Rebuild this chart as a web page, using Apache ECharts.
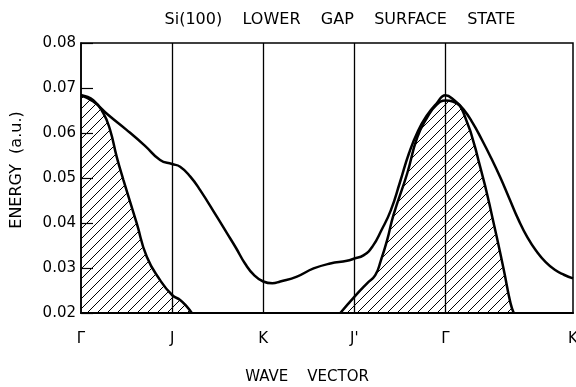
<!DOCTYPE html>
<html>
<head>
<meta charset="utf-8">
<script src="https://cdn.jsdelivr.net/npm/echarts@6/dist/echarts.min.js"></script>
<style>html,body{margin:0;padding:0;background:#fff;}#c{width:576px;height:387px;}</style>
</head>
<body>
<div id="c"></div>
<script>
// Symmetry points along the wave-vector axis
const kPoints = [0, 1, 2, 3, 4, 5.4];
const kLabels = ['Γ', 'J', 'K', "J'", 'Γ', 'K'];
const yTicks = [0.02, 0.03, 0.04, 0.05, 0.06, 0.07, 0.08];

// Surface-state band (thick curve)
const bandX = [0, 0.135, 0.3, 0.5, 0.7, 0.868, 1.0, 1.088, 1.2, 1.308, 1.491, 1.6, 1.7, 1.8, 1.9, 2.0, 2.1, 2.187, 2.37, 2.553, 2.736, 2.92, 3.0, 3.1, 3.2, 3.3, 3.4, 3.5, 3.6, 3.7, 3.8, 3.9, 4.0, 4.1, 4.2, 4.3, 4.4, 4.5, 4.6, 4.7, 4.8, 4.9, 5.0, 5.1, 5.2, 5.3, 5.4];
const bandY = [0.0684, 0.0670, 0.0640, 0.0607, 0.0572, 0.0540, 0.0531, 0.0525, 0.0503, 0.0473, 0.0414, 0.0378, 0.0345, 0.0310, 0.0284, 0.0270, 0.0266, 0.0270, 0.0281, 0.0299, 0.0310, 0.0316, 0.0321, 0.0328, 0.0348, 0.0385, 0.0428, 0.0490, 0.0555, 0.0605, 0.0640, 0.0665, 0.0684, 0.0672, 0.0652, 0.0622, 0.0585, 0.0545, 0.0502, 0.0455, 0.0408, 0.0368, 0.0337, 0.0313, 0.0296, 0.0285, 0.0277];

// Projected bulk band edge, left hatched region
const leftX = [0, 0.135, 0.245, 0.319, 0.392, 0.465, 0.612, 0.722, 0.868, 1.0, 1.088, 1.162, 1.216];
const leftY = [0.0684, 0.0673, 0.0644, 0.0607, 0.0547, 0.0496, 0.0399, 0.0325, 0.0273, 0.0240, 0.0229, 0.0214, 0.0200];

// Projected bulk band edge, right hatched region
const rightX = [2.846, 3.0, 3.14, 3.23, 3.29, 3.36, 3.43, 3.58, 3.69, 3.8, 3.9, 4.0, 4.08, 4.2, 4.385, 4.53, 4.64, 4.714, 4.75];
const rightY = [0.0200, 0.0236, 0.0266, 0.0284, 0.0316, 0.0362, 0.0418, 0.0510, 0.0590, 0.0635, 0.0662, 0.0672, 0.0670, 0.0644, 0.0522, 0.0399, 0.0296, 0.0222, 0.0200];

function pairs(xs, ys) { return xs.map((x, i) => [x, ys[i]]); }

// hatch pattern
const pc = document.createElement('canvas');
pc.width = 10; pc.height = 10;
const g = pc.getContext('2d');
g.strokeStyle = '#000'; g.lineWidth = 1;
g.beginPath();
g.moveTo(0, 10); g.lineTo(10, 0);
g.moveTo(-2, 2); g.lineTo(2, -2);
g.moveTo(8, 12); g.lineTo(12, 8);
g.stroke();
const hatch = { image: pc, repeat: 'repeat' };

const font = 'DejaVu Sans';
const chart = echarts.init(document.getElementById('c'), null, { renderer: 'canvas' });
chart.setOption({
  animation: false,
  backgroundColor: '#fff',
  title: {
    text: 'Si(100)    LOWER    GAP    SURFACE    STATE',
    left: 335, top: 7, textAlign: 'center',
    textStyle: { fontFamily: font, fontSize: 16, fontWeight: 'normal', color: '#000' }
  },
  grid: { left: 81, right: 3, top: 43, bottom: 74, containLabel: false, outerBoundsMode: 'none', show: true, borderColor: '#000', borderWidth: 1.5, backgroundColor: 'transparent' },
  xAxis: {
    type: 'value', min: 0, max: kPoints[kPoints.length - 1], interval: 1,
    name: 'WAVE    VECTOR', nameLocation: 'middle', nameGap: 57,
    nameTextStyle: { fontFamily: font, fontSize: 15, color: '#000', padding: [0, 40, 0, 0] },
    axisLine: { show: true, lineStyle: { color: '#000', width: 2 } },
    axisTick: { show: false },
    splitLine: { show: false },
    axisLabel: {
      show: true, margin: 19, fontFamily: font, fontSize: 15, color: '#000',
      showMinLabel: true, showMaxLabel: true, hideOverlap: false,
      formatter: v => { const i = kPoints.findIndex(p => Math.abs(p - v) < 1e-6); return i >= 0 ? kLabels[i] : ''; }
    }
  },
  yAxis: {
    type: 'value', min: yTicks[0], max: yTicks[yTicks.length - 1], interval: 0.01,
    name: 'ENERGY  (a.u.)', nameLocation: 'middle', nameGap: 56,
    nameTextStyle: { fontFamily: font, fontSize: 16, color: '#000', padding: [0, 0, 0, 16] },
    axisLine: { show: true, lineStyle: { color: '#000', width: 1.5 } },
    axisTick: { show: true, inside: true, length: 12, lineStyle: { color: '#000', width: 1.2 } },
    splitLine: { show: false },
    axisLabel: { margin: 5, fontFamily: font, fontSize: 15, color: '#000', formatter: v => v.toFixed(2) }
  },
  series: [
    {
      type: 'line', data: pairs(leftX, leftY), smooth: 0.5, showSymbol: false, silent: true,
      lineStyle: { color: '#000', width: 2.5 }, areaStyle: { color: hatch, opacity: 1 }
    },
    {
      type: 'line', data: pairs(rightX, rightY), smooth: 0.5, showSymbol: false, silent: true,
      lineStyle: { color: '#000', width: 2.5 }, areaStyle: { color: hatch, opacity: 1 }
    },
    {
      type: 'line', data: pairs(bandX, bandY), smooth: 0.5, showSymbol: false, silent: true,
      lineStyle: { color: '#000', width: 2.5 },
      markLine: {
        silent: true, symbol: 'none', label: { show: false },
        lineStyle: { color: '#000', width: 1.3, type: 'solid' },
        data: kPoints.slice(1, 5).map(p => ({ xAxis: p }))
      }
    }
  ]
});
</script>
</body>
</html>
